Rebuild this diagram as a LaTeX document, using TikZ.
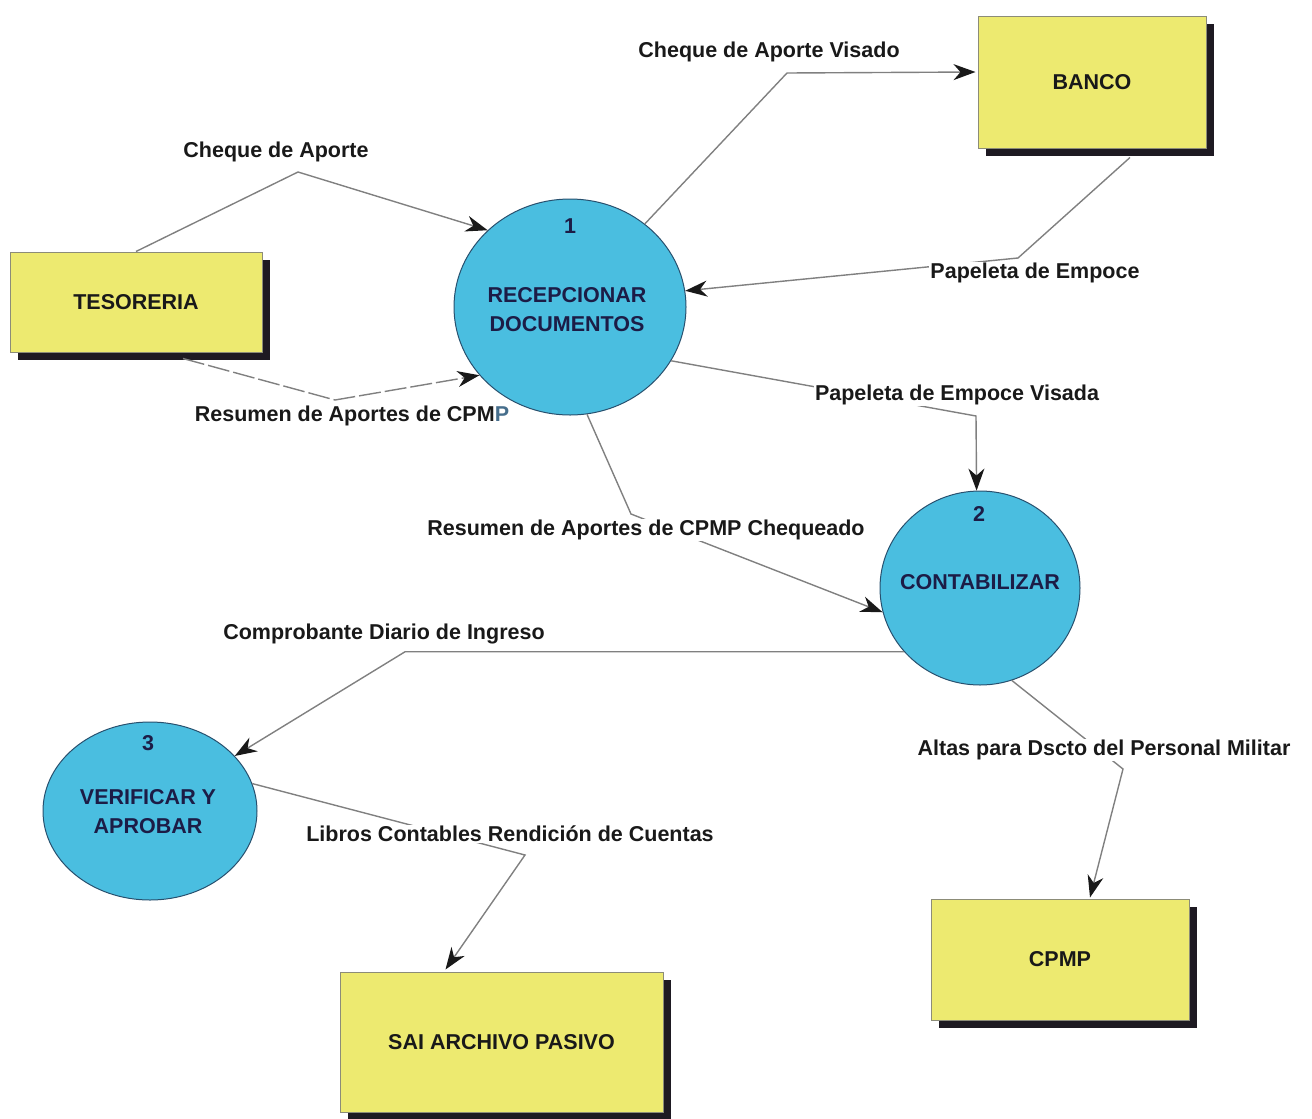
\documentclass[tikz,border=0pt]{standalone}
\usepackage{fontspec}
\setmainfont{Liberation Sans}
\usetikzlibrary{shapes.geometric,arrows.meta,calc,shadows}

\definecolor{boxfill}{RGB}{237,234,112}
\definecolor{boxline}{RGB}{140,140,120}
\definecolor{shade}{RGB}{30,26,34}
\definecolor{procfill}{RGB}{74,190,224}
\definecolor{procline}{RGB}{40,80,110}
\definecolor{proctext}{RGB}{28,28,70}
\definecolor{flow}{RGB}{128,128,128}
\definecolor{tinge}{RGB}{70,110,140}

\begin{document}
\begin{tikzpicture}[x=1pt,y=-1pt,
  entity/.style={rectangle, draw=boxline, line width=1pt, fill=boxfill, inner sep=0pt,
    drop shadow={shadow xshift=8pt, shadow yshift=-8pt, fill=shade, opacity=1},
    font=\fontsize{21.5}{26}\selectfont\bfseries, text=black!90},
  process/.style={ellipse, draw=procline, line width=1pt, fill=procfill, inner sep=0pt},
  ptext/.style={text=proctext, align=center, font=\fontsize{21.5}{29}\selectfont\bfseries},
  num/.style={text=proctext, font=\fontsize{21.5}{26}\selectfont\bfseries},
  flowlabel/.style={fill=white, inner sep=1pt, text=black!90,
    font=\fontsize{21.5}{26}\selectfont\bfseries},
  flowline/.style={draw=flow, line width=1.4pt,
    -{Stealth[length=22pt,width=16pt,inset=7pt,color=black!90]}},
]
\useasboundingbox (0,0) rectangle (1312,1119);

% external entities
\node[entity, minimum width=252pt, minimum height=100pt] (tes) at (136,302) {TESORERIA};
\node[entity, minimum width=228pt, minimum height=132pt] (ban) at (1092,82) {BANCO};
\node[entity, minimum width=323pt, minimum height=140pt] (sai) at (501.5,1042) {SAI ARCHIVO PASIVO};
\node[entity, minimum width=258pt, minimum height=121pt] (cp) at (1060,959.5) {CPMP};

% processes
\node[process, minimum width=232pt, minimum height=216pt] (c1) at (570,307) {};
\node[ptext] (t1) at (567,310) {RECEPCIONAR\\DOCUMENTOS};
\node[num] (n1) at (570,226) {1};

\node[process, minimum width=200pt, minimum height=194pt] (c2) at (980,588) {};
\node[ptext] (t2) at (980,582) {CONTABILIZAR};
\node[num] (n2) at (979,514) {2};

\node[process, minimum width=214pt, minimum height=178pt] (c3) at (150,811) {};
\node[ptext] (t3) at (148,812) {VERIFICAR Y\\APROBAR};
\node[num] (n3) at (148,743) {3};

% bends of the data flows
\coordinate (b1) at (298,172);
\coordinate (b2) at (787,73);
\coordinate (b3) at (1018,258);
\coordinate (b4) at (335,400);
\coordinate (b5) at (976,416);
\coordinate (b6) at (631,514);
\coordinate (b7) at (405,654);
\coordinate (b8) at (1123,769);
\coordinate (b9) at (525,855);

% data flows
\draw[flowline] (tes.north) -- (b1) -- (c1.137);
\draw[flowline] (c1.48) -- (b2) -- ($(ban.west)+(-2,-10)$);
\draw[flowline] ($(ban.south)+(38,9)$) -- (b3) -- (c1.8);
\draw[flowline, dash pattern=on 22pt off 4pt] ($(tes.south)+(47,6)$) -- (b4) -- (c1.217);
\draw[flowline] (c1.332) -- (b5) -- (c2.92);
\draw[flowline] (c1.279) -- (b6) -- (c2.194);
\draw[flowline] (c2.220) -- (c2.220 -| b7) -- (c3.33);
\draw[flowline] (c2.289) -- (b8) -- ($(cp.north)+(30,-1)$);
\draw[flowline] (c3.15) -- (b9) -- ($(sai.north)+(-56,-2)$);

% flow labels
\node[flowlabel] (l1) at (276,152) {Cheque de Aporte};
\node[flowlabel] (l2) at (769,52) {Cheque de Aporte Visado};
\node[flowlabel] (l3) at (1035,273) {Papeleta de Empoce};
\node[flowlabel] (l4) at (352,416) {Resumen de Aportes de CPM{\color{tinge}P}};
\node[flowlabel] (l5) at (957,395) {Papeleta de Empoce Visada};
\node[flowlabel] (l6) at (646,530) {Resumen de Aportes de CPMP Chequeado};
\node[flowlabel] (l7) at (384,634) {Comprobante Diario de Ingreso};
\node[flowlabel] (l8) at (1104,750) {Altas para Dscto del Personal Militar};
\node[flowlabel] (l9) at (510,834) {Libros Contables Rendición de Cuentas};
\end{tikzpicture}
\end{document}
